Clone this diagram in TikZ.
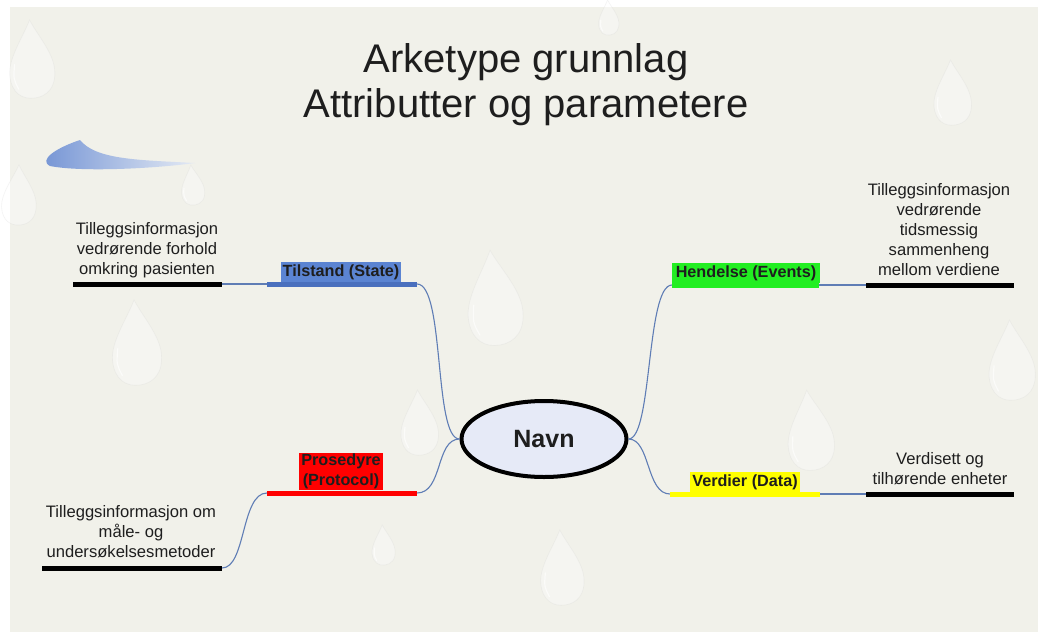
\documentclass[tikz,border=0pt]{standalone}
\usepackage{fontspec}
\setmainfont{Liberation Sans}
\usetikzlibrary{shapes.geometric}

\definecolor{slidebg}{HTML}{F1F1EA}
\definecolor{inkdark}{HTML}{1E1E1E}
\definecolor{linkblue}{HTML}{5F7DB5}
\definecolor{stateblue}{HTML}{5B84D2}
\definecolor{statebar}{HTML}{4A70BE}
\definecolor{eventgreen}{HTML}{22EE22}
\definecolor{protred}{HTML}{FF0000}
\definecolor{datayellow}{HTML}{FFFF00}
\definecolor{centrefill}{HTML}{E6EAF7}
\definecolor{swooshdark}{HTML}{7393D4}
\definecolor{swooshlight}{HTML}{E4EAF4}

% a faint water drop: bottom centre (#1,#2), height #3, tilt #4
\newcommand\waterdrop[4]{%
  \begin{scope}[shift={(#1,#2)}, rotate=#4, xscale=#3, yscale=-#3]
    \path[fill=white, fill opacity=0.35, draw=black!18, draw opacity=0.25, line width=0.6pt]
      (0.07,1) .. controls (0.14,0.8) and (0.31,0.55) .. (0.3,0.33)
      .. controls (0.29,0.1) and (0.16,0) .. (0,0)
      .. controls (-0.16,0) and (-0.29,0.1) .. (-0.28,0.33)
      .. controls (-0.27,0.55) and (-0.04,0.8) .. (0.07,1) -- cycle;
    \draw[white, line width=1.2pt, opacity=0.6, line cap=round]
      (-0.19,0.14) .. controls (-0.24,0.28) .. (-0.2,0.46);
  \end{scope}}

\begin{document}
\begin{tikzpicture}[x=1pt, y=-1pt,
  every node/.style={text=inkdark},
  labbase/.style={font=\fontsize{16.2}{20}\selectfont\bfseries, inner xsep=2pt, inner ysep=1pt,
              anchor=south, align=center},
  lab/.style={labbase, text height=14pt, text depth=4pt},
  note/.style={font=\fontsize{16.6}{20}\selectfont, inner sep=0pt, anchor=south, align=center},
  bar/.style={line width=5pt, line cap=butt},
  link/.style={draw=linkblue, line width=1.1pt},
  centre/.style={ellipse, draw=black, line width=4pt, fill=centrefill,
                 minimum width=165pt, minimum height=76pt,
                 font=\fontsize{25}{30}\selectfont\bfseries}]

\useasboundingbox (0,0) rectangle (1038,632);
\fill[white] (0,0) rectangle (1038,632);
\fill[slidebg] (10,7) rectangle (1038,632);

% background drops
\waterdrop{35}{98}{78}{8}
\waterdrop{20}{225}{60}{5}
\waterdrop{195}{205}{40}{10}
\waterdrop{140}{385}{85}{8}
\waterdrop{500}{345}{95}{10}
\waterdrop{422}{455}{65}{8}
\waterdrop{955}{125}{65}{8}
\waterdrop{1015}{400}{80}{8}
\waterdrop{815}{470}{80}{10}
\waterdrop{565}{605}{75}{8}
\waterdrop{385}{565}{40}{8}
\waterdrop{610}{35}{35}{8}

% swoosh ornament
\path[left color=swooshdark, right color=swooshlight]
  (80,140) .. controls (56,148) and (38,160) .. (50,166)
  .. controls (80,172) and (150,169) .. (195,163)
  .. controls (140,160) and (96,160) .. (80,140) -- cycle;

% title
\node[font=\fontsize{40}{45}\selectfont, align=center, anchor=south, inner sep=0pt]
  (title) at (526,125.5) {Arketype grunnlag\\Attributter og parametere};

% central topic
\node[centre] (navn) at (544,439) {Navn};

% branch end points
\coordinate (stBarL) at (267,284);  \coordinate (stBarR) at (417,284);
\coordinate (stNoteL) at (73,284);  \coordinate (stNoteR) at (222,284);
\coordinate (evBarL) at (672,285);  \coordinate (evBarR) at (819,285);
\coordinate (evNoteL) at (866,285); \coordinate (evNoteR) at (1014,285);
\coordinate (daBarL) at (670,494);  \coordinate (daBarR) at (820,494);
\coordinate (daNoteL) at (866,494); \coordinate (daNoteR) at (1014,494);
\coordinate (prBarL) at (267,493);  \coordinate (prBarR) at (417,493);
\coordinate (prNoteL) at (42,568);  \coordinate (prNoteR) at (222,568);

% connectors
\draw[link] (stBarR) .. controls +(28,0) and +(-26,0) .. (navn.west);
\draw[link] (prBarR) .. controls +(26,0) and +(-24,0) .. (navn.west);
\draw[link] (navn.east) .. controls +(24,0) and +(-26,0) .. (evBarL);
\draw[link] (navn.east) .. controls +(22,0) and +(-24,0) .. (daBarL);
\draw[link] (stNoteR) -- (stBarL);
\draw[link] (evBarR) -- (evNoteL);
\draw[link] (daBarR) -- (daNoteL);
\draw[link] (prBarL) .. controls +(-26,0) and +(24,0) .. (prNoteR);

% coloured branch bars
\draw[bar, statebar] (stBarL) -- (stBarR);
\draw[bar, eventgreen] (evBarL) -- (evBarR);
\draw[bar, datayellow] (daBarL) -- (daBarR);
\draw[bar, protred] (prBarL) -- (prBarR);

% note underlines
\draw[bar, black] (stNoteL) -- (stNoteR);
\draw[bar, black] (evNoteL) -- (evNoteR);
\draw[bar, black] (daNoteL) -- (daNoteR);
\draw[bar, black] (prNoteL) -- (prNoteR);

% branch labels
\node[lab, fill=stateblue] (stLab) at (341,282) {Tilstand (State)};
\node[lab, fill=eventgreen, minimum width=148pt] (evLab) at (746,283) {Hendelse (Events)};
\node[lab, fill=datayellow] (daLab) at (745,492) {Verdier (Data)};
\node[labbase, fill=protred] (prLab) at (341,490) {Prosedyre\\(Protocol)};

% notes
\node[note] (stNote) at (147,278.5) {Tilleggsinformasjon\\vedrørende forhold\\omkring pasienten};
\node[note] (evNote) at (939,276) {Tilleggsinformasjon\\vedrørende\\tidsmessig\\sammenheng\\mellom verdiene};
\node[note] (daNote) at (940,485) {Verdisett og\\tilhørende enheter};
\node[note] (prNote) at (131,558) {Tilleggsinformasjon om\\måle- og\\undersøkelsesmetoder};

\end{tikzpicture}
\end{document}
